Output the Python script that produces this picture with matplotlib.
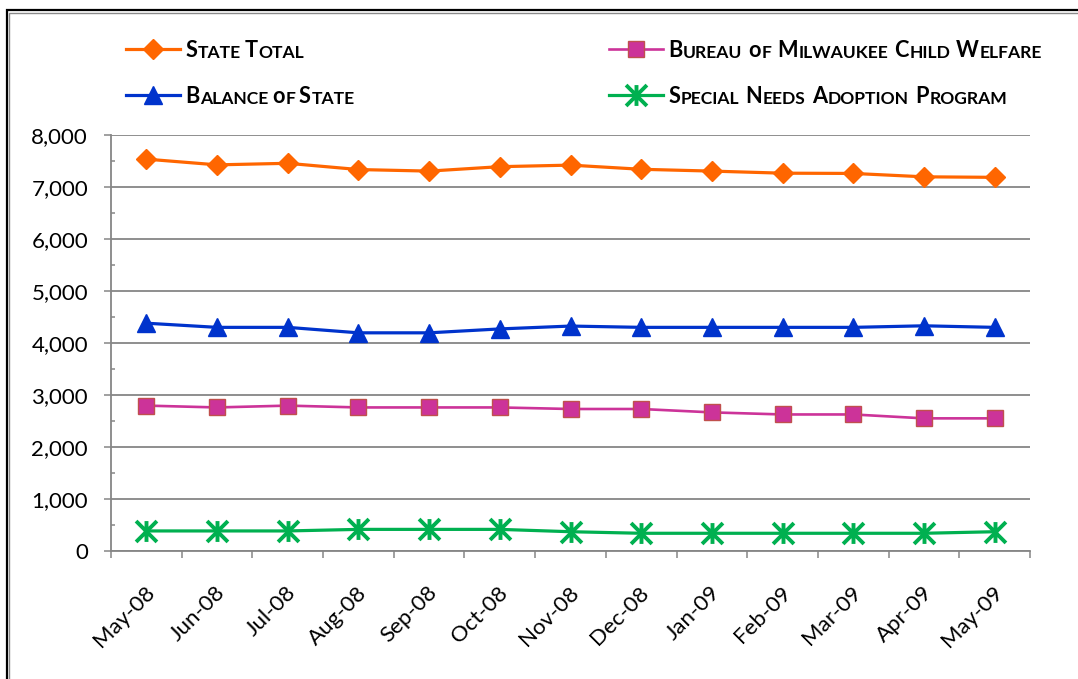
import matplotlib
matplotlib.use('Agg')
import matplotlib.pyplot as plt
from matplotlib.path import Path
from matplotlib.patches import Rectangle
from matplotlib.ticker import FixedLocator, MultipleLocator, FuncFormatter
import matplotlib.transforms as mtransforms

# ---------------- data ----------------
months = ['May-08', 'Jun-08', 'Jul-08', 'Aug-08', 'Sep-08', 'Oct-08', 'Nov-08',
          'Dec-08', 'Jan-09', 'Feb-09', 'Mar-09', 'Apr-09', 'May-09']
state_total = [7530, 7420, 7450, 7330, 7300, 7385, 7415, 7335, 7300, 7260, 7255, 7190, 7180]
balance_of_state = [4375, 4295, 4295, 4190, 4190, 4265, 4320, 4295, 4295, 4295, 4295, 4325, 4295]
bureau_milwaukee = [2790, 2755, 2790, 2755, 2755, 2755, 2725, 2725, 2660, 2620, 2620, 2545, 2545]
special_needs = [380, 380, 380, 410, 410, 410, 365, 335, 335, 335, 335, 335, 365]
series_names = ['State Total', 'Balance of State',
                'Bureau of Milwaukee Child Welfare', 'Special Needs Adoption Program']
y_ticks = [0, 1000, 2000, 3000, 4000, 5000, 6000, 7000, 8000]

plt.rcParams['font.family'] = ['Lato', 'DejaVu Sans']

W, H = 1078, 679
fig = plt.figure(figsize=(W / 100, H / 100), dpi=100)
ax = fig.add_axes([111 / W, 1 - 550.7 / H, 919 / W, 416 / H])

GRAY = '#868686'
x = list(range(len(months)))
star = Path([(0, -1), (0, 1), (-1, -1), (1, 1), (-1, 1), (1, -1)],
            [Path.MOVETO, Path.LINETO] * 3)

l1, = ax.plot(x, state_total, color='#FF6600', lw=2.3, marker='D', ms=10.5,
              mec='#FF6600', zorder=4, clip_on=False)
l2, = ax.plot(x, balance_of_state, color='#0033CC', lw=2.3, marker='^', ms=13,
              mec='#0033CC', zorder=4, clip_on=False)
l3, = ax.plot(x, bureau_milwaukee, color='#CC3399', lw=1.9, marker='s', ms=11,
              mfc='#CC3399', mec='#C0504D', mew=1.0, zorder=4, clip_on=False)
l4, = ax.plot(x, special_needs, color='#00B050', lw=2.3, marker=star, ms=15,
              mfc='none', mec='#00B050', mew=2.8, zorder=4, clip_on=False)

# ---------------- axes ----------------
ax.set_xlim(-0.5, len(months) - 0.5)
ax.set_ylim(0, 8000)
ax.set_yticks(y_ticks)
ax.yaxis.set_major_formatter(FuncFormatter(lambda v, p: f'{int(v):,}'))
ax.yaxis.set_minor_locator(MultipleLocator(500))
ax.set_xticks(x)
ax.set_xticklabels(months, rotation=45, ha='right', va='center', rotation_mode='anchor')
ax.xaxis.set_minor_locator(FixedLocator([i - 0.5 for i in range(len(months) + 1)]))

ax.yaxis.grid(True, which='major', color=GRAY, lw=1.3)
ax.set_axisbelow(True)
for s in ['top', 'right']:
    ax.spines[s].set_visible(False)
for s in ['left', 'bottom']:
    ax.spines[s].set_color(GRAY)
    ax.spines[s].set_linewidth(1.3)

ax.tick_params(axis='y', which='major', length=5, width=1.1, color=GRAY,
               direction='out', pad=11.5, labelsize=16)
ax.tick_params(axis='y', which='minor', length=3, width=1.1, color=GRAY, direction='in')
ax.tick_params(axis='x', which='major', length=0, pad=28, labelsize=16)
ax.tick_params(axis='x', which='minor', length=5, width=1.1, color=GRAY, direction='out')

offset = mtransforms.ScaledTranslation(5 / 100, 0, fig.dpi_scale_trans)
for lab in ax.get_xticklabels():
    lab.set_transform(lab.get_transform() + offset)

# ---------------- legend ----------------
handles = [l1, l2, l3, l4]
placeholders = [n.upper() for n in series_names]
leg = ax.legend(handles, placeholders, ncol=2, loc='upper left',
                bbox_to_anchor=(126 / W, 1 - 42 / H), bbox_transform=fig.transFigure,
                frameon=False, prop={'weight': 'bold', 'size': 12},
                handlelength=3.25, handletextpad=0.3, labelspacing=1.8,
                columnspacing=16.0, borderpad=0, borderaxespad=0, numpoints=1)

BIG, SMALL = 15.7, 12.6


def smallcaps(anchor, text, word_gap):
    """Draw bold small-caps text: initial capitals larger than the rest."""
    prev = anchor
    first = True
    for w in text.split(' '):
        for pi, (s, size) in enumerate([(w[0], BIG), (w[1:].upper(), SMALL)]):
            if not s:
                continue
            if first:
                xy, dx, dy = (0, 0), 0, -2.4
                first = False
            else:
                xy = (1, 0)
                dx, dy = (word_gap if pi == 0 else 0.4), 0
            t = ax.annotate(s, xy=xy, xycoords=prev, xytext=(dx, dy),
                            textcoords='offset points', va='bottom', ha='left',
                            fontsize=size, fontweight='bold', color='black',
                            annotation_clip=False, zorder=10)
            prev = t


gaps = [2.8, 2.8, 4.3, 4.6]
for txt, name, g in zip(leg.get_texts(), series_names, gaps):
    txt.set_alpha(0)
    smallcaps(txt, name, g)

# ---------------- border ----------------
fig.add_artist(Rectangle((6.5 / W, -0.1), 1.2, 1 - 10.3 / H + 0.1,
                         transform=fig.transFigure, fill=False, ec='black', lw=1.6))
fig.add_artist(Rectangle((9.3 / W, -0.1), 1.2, 1 - 12.6 / H + 0.1,
                         transform=fig.transFigure, fill=False, ec='#8a8a8a', lw=1.0))

fig.savefig('out.png', dpi=100)
